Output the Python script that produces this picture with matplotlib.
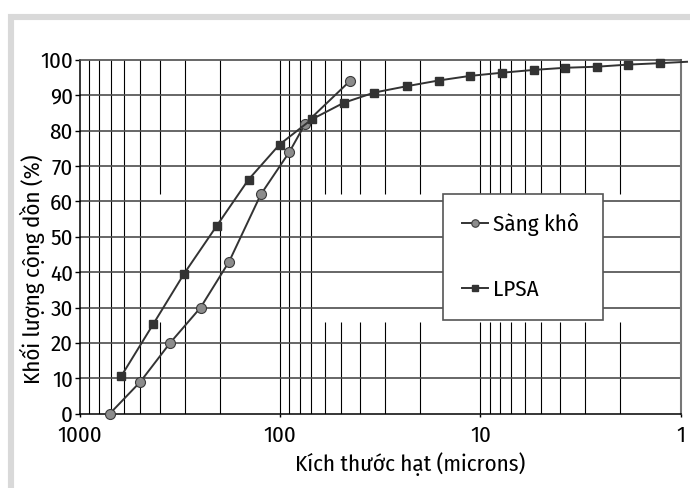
import numpy as np
import matplotlib
matplotlib.use('Agg')
import matplotlib.pyplot as plt
from matplotlib.patches import Rectangle

plt.rcParams['font.family'] = ['Fira Sans Condensed', 'DejaVu Sans']
plt.rcParams['font.stretch'] = 'condensed'
plt.rcParams['font.weight'] = 'normal'

# Sàng khô (dry sieving)
sieve_size = [710, 500, 355, 250, 180, 125, 90, 75, 45]
sieve_pct = [0, 9, 20, 30, 43, 62, 74, 82, 94]

# LPSA (laser particle size analysis)
lpsa_size = [621, 430, 302, 207, 144, 100.8, 69.7, 48.2, 33.9, 23.3, 16.2,
             11.3, 7.82, 5.41, 3.79, 2.63, 1.83, 1.27, 0.93]
lpsa_pct = [10.7, 25.4, 39.6, 53.2, 66.2, 76.1, 83.2, 87.9, 90.8, 92.6, 94.2,
            95.5, 96.4, 97.2, 97.8, 98.1, 98.7, 99.1, 99.5]

x_ticks = [1000, 100, 10, 1]
x_ticklabels = ['1000', '100', '10', '1']
y_ticks = list(range(0, 101, 10))

FS = 16.5
W, H = 690, 488
fig = plt.figure(figsize=(W / 100, H / 100), dpi=100)
ax = fig.add_axes([80 / W, 1 - 413.7 / H, 600.7 / W, 353.7 / H])

# light grey frame around the whole chart
fig.patches.append(Rectangle((11 / W, -0.05), 680 / W, 1 - 17 / H + 0.05,
                             transform=fig.transFigure, fill=False,
                             edgecolor='#d9d9d9', linewidth=4.4, zorder=0))

ax.set_xscale('log')
ax.set_xlim(1000, 1)
ax.set_ylim(0, 100)

# vertical grid: all log sub-decade lines; some are interrupted around the legend
minor_x = [k * 10.0 ** d for d in (0, 1, 2) for k in range(2, 10)] + [10, 100]
broken_x = [400, 60, 50, 40, 30, 20, 10, 9, 8, 7, 6, 5, 4, 3, 2]
gap_lo, gap_hi = 26, 62
for xv in minor_x:
    if any(abs(xv - b) < 1e-9 for b in broken_x):
        ax.vlines(xv, 0, gap_lo, color='black', lw=0.8, zorder=1)
        ax.vlines(xv, gap_hi, 100, color='black', lw=0.8, zorder=1)
    else:
        ax.vlines(xv, 0, 100, color='black', lw=0.8, zorder=1)

for yv in y_ticks[1:-1]:
    ax.axhline(yv, color='#4d4d4d', lw=1.2, zorder=1)

ax.plot(sieve_size, sieve_pct, color='#333333', lw=1.4, marker='o', ms=7.2,
        mfc='#8c8c8c', mec='#3a3a3a', mew=0.8, label='Sàng khô',
        clip_on=False, zorder=4)
ax.plot(lpsa_size, lpsa_pct, color='#333333', lw=1.4, marker='s', ms=5.6,
        mfc='#333333', mec='#333333', markevery=list(range(len(lpsa_size) - 1)),
        label='LPSA', clip_on=False, zorder=4)

ax.set_xticks(x_ticks)
ax.set_xticklabels(x_ticklabels)
ax.xaxis.set_minor_locator(matplotlib.ticker.NullLocator())
ax.set_yticks(y_ticks)
ax.tick_params(axis='y', direction='out', length=3.6, width=1, pad=1.5,
               labelsize=FS, colors='black')
ax.tick_params(axis='x', direction='out', length=2.5, width=1, pad=6,
               labelsize=FS, colors='black')

for side in ('left', 'bottom'):
    ax.spines[side].set_color('black')
    ax.spines[side].set_linewidth(1.1)
ax.spines['top'].set_color('#4d4d4d')
ax.spines['top'].set_linewidth(1.2)
ax.spines['right'].set_color('#777777')
ax.spines['right'].set_linewidth(1.5)

ax.set_xlabel('Kích thước hạt (microns)', fontsize=FS)
ax.xaxis.set_label_coords((410 - 80) / 600.7, (413.7 - 464) / 353.7)
ax.xaxis.label.set_va('center')
ax.set_ylabel('Khối lượng cộng dồn (%)', fontsize=FS)
ax.yaxis.set_label_coords((32 - 80) / 600.7, (413.7 - 269) / 353.7)
ax.yaxis.label.set_va('center')

leg = ax.legend(loc='upper left',
                bbox_to_anchor=((443 - 80) / 600.7, (413.7 - 194) / 353.7 - 0.01,
                                160 / 600.7, 0.01),
                mode='expand', fontsize=FS, frameon=True, fancybox=False,
                borderpad=0.85, labelspacing=1.85, handlelength=1.1,
                handletextpad=0.25, markerscale=0.75, borderaxespad=0)
leg.get_frame().set_edgecolor('#555555')
leg.get_frame().set_linewidth(1.2)
leg.get_frame().set_alpha(1)
leg.set_zorder(6)

fig.savefig('out.png', dpi=100)
